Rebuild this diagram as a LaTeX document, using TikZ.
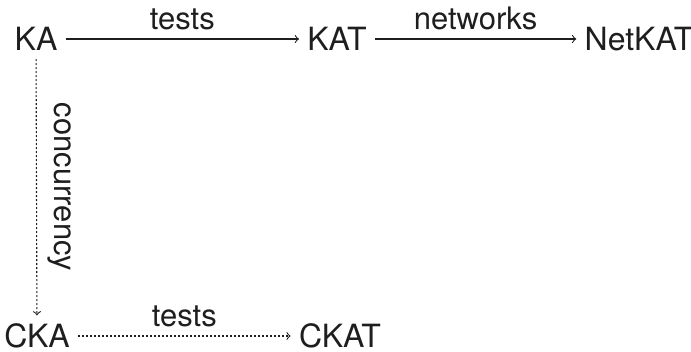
\documentclass[tikz,border=0pt]{standalone}
\usepackage{fontspec}
\setmainfont{TeX Gyre Heros}
\usepackage{tikz}
\usetikzlibrary{positioning,arrows.meta,calc}
\definecolor{ink}{RGB}{30,30,30}
\tikzset{
    obj/.style={font=\fontsize{16}{19}\selectfont, text=ink, inner sep=4pt},
    lbl/.style={font=\fontsize{15.5}{19}\selectfont, text=ink},
    arrow/.style={-to, line width=0.55pt, draw=ink},
    dotarrow/.style={-to, line width=0.55pt, draw=ink, dash pattern=on 1pt off 1pt}
}

\begin{document}
\begin{tikzpicture}[x=0.5pt,y=-0.5pt]
\useasboundingbox (0,0) rectangle (691,352);
\node[obj] (ka) at (36,39) {KA};
\node[obj] (kat) at (337,39) {KAT};
\node[obj] (netkat) at (639,39) {NetKAT};
\node[obj] (cka) at (37,336) {CKA};
\node[obj] (ckat) at (340,336) {CKAT};
\draw[arrow] (ka) -- node[lbl, above=1pt] {tests} (kat);
\draw[arrow] (kat) -- node[lbl, above=1pt] {networks} (netkat);
\draw[dotarrow] (ka) -- node[lbl, sloped, above=2pt] {concurrency} (cka);
\draw[dotarrow] (cka) -- node[lbl, above=1pt] {tests} (ckat);
\end{tikzpicture}
\end{document}
